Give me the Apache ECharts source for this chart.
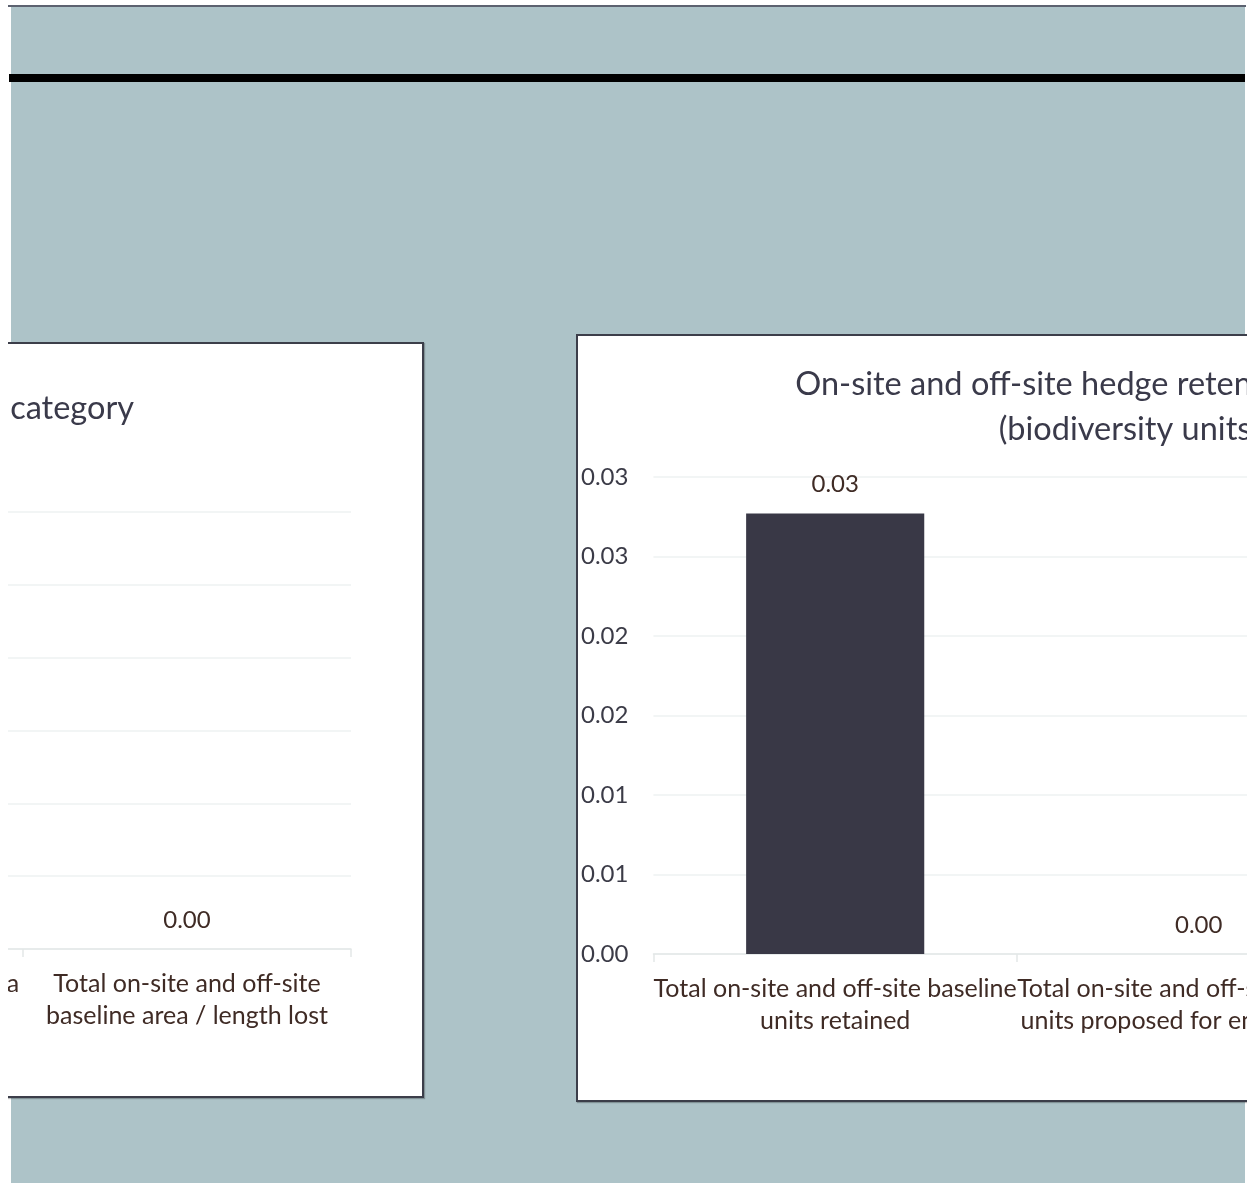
<!DOCTYPE html>
<html>
<head>
<meta charset="utf-8">
<script src="https://cdn.jsdelivr.net/npm/echarts@6/dist/echarts.min.js"></script>
<style>
  html, body { margin: 0; padding: 0; width: 1258px; height: 1183px; overflow: hidden; background: #fff; }
  .clip { position: absolute; left: 8px; top: 0; width: 1239px; height: 1183px; overflow: hidden; }
  .sheet { position: absolute; left: 3px; top: 7px; width: 1234px; height: 1176px; background: #adc3c8; }
  .top-line { position: absolute; left: 0; top: 5px; width: 1238px; height: 2px; background: #5c6270; }
  .rule { position: absolute; left: 1px; top: 74px; width: 1236px; height: 8px; background: #000; }
  .panel { position: absolute; background: #fff; border: 2px solid #3c3e4a; box-sizing: border-box; box-shadow: 1px 1px 1px rgba(0,0,0,0.25); }
  .panel .chart { position: absolute; left: 0; top: 0; width: 100%; height: 100%; }
  #left-panel { left: -728px; top: 342px; width: 1144px; height: 756px; }
  #right-panel { left: 568px; top: 334px; width: 1250px; height: 768px; }
</style>
</head>
<body>
<div class="clip">
  <div class="sheet"></div>
  <div class="top-line"></div>
  <div class="rule"></div>
  <div class="panel" id="left-panel"><div class="chart" id="left-chart"></div></div>
  <div class="panel" id="right-panel"><div class="chart" id="right-chart"></div></div>
</div>
<script>
// left chart: area / length by category (only the last category is in view)
const lengthTitle = 'On-site and off-site hedge area / length by category';
const lengthCategories = [
  'Total on-site and off-site area\n/ length retained',
  'Total on-site and off-site area\n/ length enhanced',
  'Total on-site and off-site\nbaseline area / length lost',
];
const lengthValues = [0, 0, 0];

// right chart: biodiversity units
const unitTitle = 'On-site and off-site hedge retention and losses\n(biodiversity units)';
const unitCategories = [
  'Total on-site and off-site baseline\nunits retained',
  'Total on-site and off-site baseline\nunits proposed for enhancement',
  'Total on-site and off-site baseline\nunits lost',
];
const unitValues = [0.0277, 0, 0];

const axisMax = 0.03;
const axisStep = 0.005;

const FONT = 'Lato, "Open Sans", sans-serif';
const TITLE_COLOR = '#3a3a4a';
const LABEL_COLOR = '#3f2b25';
const BAR_COLOR = '#393846';

// excel shows 0.025 as 0.03 and 0.015 as 0.02
const tickFormat = (v) => (Math.round(v * 100 + 1e-9) / 100).toFixed(2);

const buildOption = ({ title, titlePos, categories, values, grid }) => ({
  animation: false,
  textStyle: { fontFamily: FONT },
  title: {
    text: title,
    ...titlePos,
    textStyle: { fontFamily: FONT, fontSize: 32.5, fontWeight: 'normal', color: TITLE_COLOR, lineHeight: 45 },
  },
  grid,
  xAxis: {
    type: 'category',
    data: categories,
    axisLine: { lineStyle: { color: '#e3e8e8', width: 1.5 } },
    axisTick: { show: true, length: 8, lineStyle: { color: '#e3e8e8', width: 1.5 } },
    axisLabel: { color: LABEL_COLOR, fontSize: 25, lineHeight: 32, margin: 19, interval: 0 },
  },
  yAxis: {
    type: 'value',
    min: 0,
    max: axisMax,
    interval: axisStep,
    axisLine: { show: false },
    axisTick: { show: false },
    splitLine: { lineStyle: { color: '#eef2f2', width: 1.5 } },
    axisLabel: { color: '#3b3b47', fontSize: 24, margin: 25, formatter: tickFormat },
  },
  series: [{
    type: 'bar',
    data: values,
    barWidth: '49%',
    itemStyle: { color: BAR_COLOR },
    label: {
      show: true,
      position: 'top',
      distance: 17,
      color: LABEL_COLOR,
      fontSize: 24,
      formatter: (p) => p.value.toFixed(2),
    },
  }],
});

const init = () => {
  const leftChart = echarts.init(document.getElementById('left-chart'));
  leftChart.setOption(buildOption({
    title: lengthTitle,
    titlePos: { right: 283, top: 37 },
    categories: lengthCategories,
    values: lengthValues,
    grid: { left: 85, right: 71, top: 168, bottom: 147 },
  }));

  const rightChart = echarts.init(document.getElementById('right-chart'));
  rightChart.setOption(buildOption({
    title: unitTitle,
    titlePos: { left: 546, top: 21, textAlign: 'center' },
    categories: unitCategories,
    values: unitValues,
    grid: { left: 74, right: 80, top: 141, bottom: 146 },
  }));
};

init();
</script>
</body>
</html>
